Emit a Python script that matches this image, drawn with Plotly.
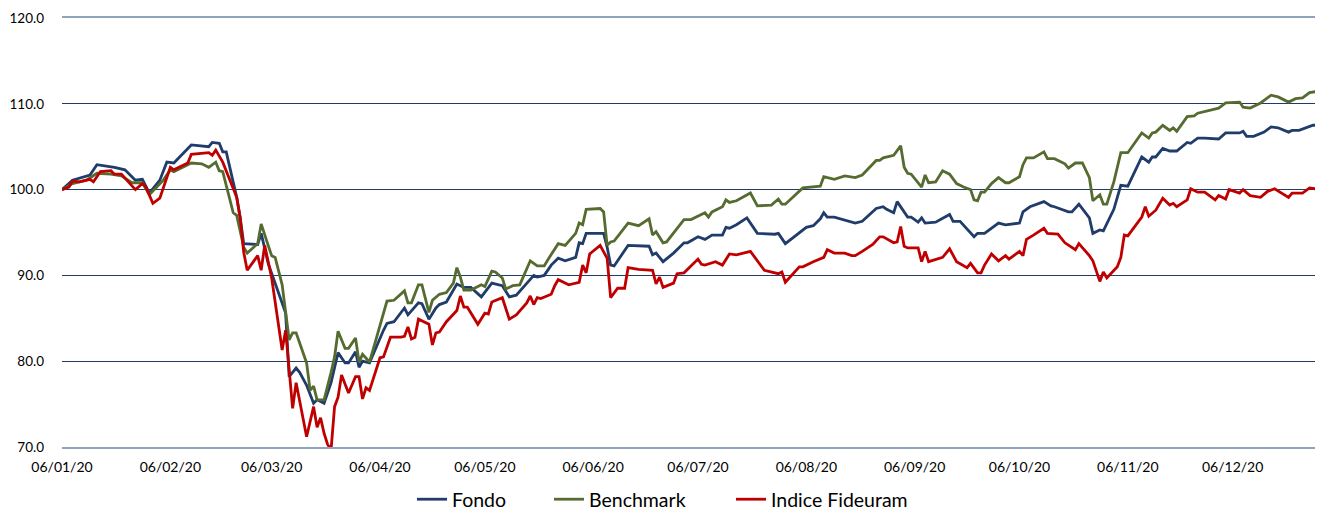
import pandas as pd
import plotly.graph_objects as go

START = "2020-01-06"

# Day offsets from 06/01/2020 and values
fondo_days = [0, 3, 8, 10, 15, 18, 21, 23, 25, 28, 30, 32, 37, 42, 43, 45, 46, 47, 50, 51,
              52, 56, 57, 59, 64, 65, 67, 68, 70, 72, 73, 75, 77, 79, 81, 82, 84, 85, 86, 88,
              92, 93, 95, 98, 99, 102, 103, 105, 107, 108, 110, 113, 115, 117, 120, 123, 126,
              128, 130, 135, 136, 138, 140, 142, 144, 147, 148, 149, 150, 155, 156, 157, 158,
              162, 168, 169, 170, 172, 175, 178, 179, 182, 184, 186, 189, 190, 191, 193, 196,
              199, 204, 205, 207, 211, 213, 215, 217, 218, 219, 221, 225, 227, 229, 231, 233,
              235, 236, 238, 239, 242, 243, 245, 246, 247, 250, 254, 255, 257, 261, 262, 264,
              268, 270, 274, 275, 277, 281, 283, 284, 288, 289, 291, 292, 294, 295, 297, 298,
              301, 303, 305, 309, 311, 312, 313, 315, 317, 319, 322, 323, 325, 327, 331, 333,
              337, 338, 339, 341, 344, 346, 348, 351, 352, 354, 358, 360]
fondo_vals = [100.0, 101.1, 101.7, 102.9, 102.6, 102.3, 101.1, 101.2, 99.6, 101.1, 103.2, 103.1,
              105.2, 105.0, 105.5, 105.4, 104.4, 104.4, 99.1, 96.7, 93.7, 93.6, 94.9, 91.4, 85.6,
              78.2, 79.2, 78.7, 77.2, 75.1, 75.5, 75.1, 77.5, 81.0, 79.8, 79.8, 81.1, 79.3, 80.0,
              79.8, 83.6, 84.4, 84.6, 86.2, 85.4, 86.8, 86.7, 84.9, 86.2, 86.6, 86.9, 89.0, 88.6,
              88.6, 87.5, 89.1, 88.8, 87.5, 87.7, 90.0, 89.8, 90.0, 91.2, 92.0, 91.7, 92.1, 93.8,
              93.7, 94.9, 94.9, 93.3, 91.2, 91.1, 93.5, 93.4, 92.4, 92.6, 91.6, 92.6, 93.8, 93.8,
              94.5, 94.2, 94.7, 94.7, 95.6, 95.5, 95.9, 96.7, 94.9, 94.8, 94.9, 93.7, 94.9, 95.6,
              95.8, 96.6, 97.3, 96.8, 96.8, 96.3, 96.1, 96.3, 97.0, 97.8, 98.0, 97.7, 97.3, 98.6,
              96.8, 96.8, 96.2, 96.7, 96.1, 96.2, 97.1, 96.3, 96.3, 94.5, 94.9, 94.9, 96.1, 95.9,
              96.1, 97.4, 98.0, 98.6, 98.1, 98.0, 97.4, 97.4, 98.3, 97.8, 96.7, 94.9, 95.3, 95.2,
              97.7, 100.5, 100.4, 103.8, 103.2, 103.8, 103.8, 104.8, 104.5, 104.5, 105.5, 105.4,
              106.0, 106.0, 105.9, 106.6, 106.6, 106.8, 106.2, 106.2, 106.7, 107.3, 107.2, 106.7,
              106.9, 106.9, 107.5, 107.5]

bench_days = [0, 3, 7, 10, 14, 17, 20, 23, 25, 29, 31, 32, 37, 40, 42, 44, 45, 46, 49, 50,
              52, 53, 56, 57, 59, 60, 61, 63, 65, 66, 67, 70, 71, 72, 73, 75, 77, 78, 79, 81,
              82, 84, 85, 86, 88, 91, 93, 95, 98, 99, 100, 102, 103, 105, 106, 108, 110, 112,
              113, 114, 115, 117, 120, 121, 123, 124, 126, 127, 129, 131, 134, 136, 138, 139,
              140, 142, 144, 147, 148, 149, 150, 154, 155, 156, 157, 158, 162, 165, 168, 169,
              170, 172, 173, 177, 178, 180, 184, 185, 186, 189, 190, 191, 193, 197, 199, 203,
              205, 206, 207, 212, 215, 217, 218, 221, 224, 227, 229, 231, 233, 234, 235, 238,
              240, 241, 242, 243, 246, 247, 248, 250, 252, 254, 256, 258, 260, 261, 262, 263,
              264, 266, 268, 270, 271, 274, 275, 276, 278, 281, 282, 284, 287, 288, 290, 292,
              294, 295, 297, 298, 299, 301, 303, 305, 309, 311, 312, 313, 315, 317, 318, 319,
              322, 324, 325, 331, 333, 337, 338, 340, 343, 346, 348, 351, 353, 355, 357, 360]
bench_vals = [100.0, 100.7, 101.1, 101.9, 101.8, 101.6, 100.8, 100.8, 99.4, 101.1, 102.3, 102.1,
              103.1, 103.0, 102.6, 103.2, 102.2, 102.1, 97.3, 97.0, 93.3, 92.6, 93.7, 96.0, 93.5,
              92.3, 92.1, 88.9, 82.5, 83.3, 83.3, 79.8, 76.6, 77.1, 75.5, 75.5, 78.7, 80.5, 83.5,
              81.5, 81.5, 82.7, 79.9, 80.8, 79.9, 84.0, 87.0, 87.1, 88.2, 86.8, 86.8, 88.9, 88.9,
              85.7, 87.1, 87.8, 88.0, 89.1, 90.9, 89.8, 88.3, 88.3, 88.9, 88.7, 90.5, 90.4, 89.7,
              88.4, 88.8, 88.9, 91.7, 91.1, 91.1, 91.8, 92.4, 93.7, 93.5, 94.9, 96.1, 95.9, 97.7,
              97.8, 97.4, 93.5, 93.9, 94.0, 96.1, 95.8, 96.6, 94.7, 95.1, 93.8, 93.9, 95.9, 96.5,
              96.5, 97.3, 96.8, 97.4, 98.0, 98.8, 98.5, 98.7, 99.6, 98.1, 98.2, 98.9, 98.3, 98.3,
              100.2, 100.3, 100.4, 101.5, 101.2, 101.6, 101.4, 101.7, 102.6, 103.4, 103.4, 103.7,
              104.0, 105.1, 102.6, 101.9, 101.8, 100.3, 101.7, 100.8, 100.9, 102.2, 101.8, 100.7,
              100.3, 100.0, 98.8, 98.7, 99.7, 99.7, 100.7, 101.4, 100.8, 100.8, 101.5, 102.9,
              103.7, 103.7, 104.4, 103.6, 103.6, 103.0, 102.5, 103.1, 103.1, 101.4, 98.7, 99.4,
              98.3, 98.3, 100.9, 104.3, 104.3, 106.6, 106.0, 106.6, 106.7, 107.5, 106.9, 107.2,
              106.8, 108.5, 108.6, 108.9, 109.5, 110.1, 110.2, 109.6, 109.5, 110.1, 111.0, 110.8,
              110.2, 110.6, 110.7, 111.3, 111.5]

indice_days = [0, 2, 3, 5, 8, 9, 11, 14, 15, 17, 21, 23, 24, 26, 28, 31, 32, 36, 37, 42,
               43, 44, 46, 50, 51, 52, 53, 56, 57, 58, 60, 63, 64, 66, 67, 70, 72, 73, 74, 75,
               76, 77, 78, 79, 80, 82, 84, 85, 86, 87, 88, 91, 92, 94, 97, 98, 99, 100, 101, 102,
               105, 106, 107, 108, 110, 113, 114, 115, 116, 119, 121, 122, 123, 126, 128, 130,
               133, 134, 135, 136, 137, 140, 141, 142, 145, 148, 149, 150, 151, 154, 156, 157,
               159, 161, 162, 165, 169, 170, 171, 172, 175, 176, 178, 182, 183, 184, 187, 189,
               191, 193, 197, 201, 205, 206, 207, 211, 212, 215, 218, 219, 221, 224, 226, 227,
               229, 232, 234, 235, 238, 239, 240, 241, 242, 245, 246, 247, 248, 252, 254, 256,
               259, 260, 262, 263, 264, 266, 268, 270, 271, 274, 275, 276, 278, 281, 282, 285,
               287, 290, 291, 294, 295, 297, 298, 299, 302, 303, 304, 305, 309, 310, 311, 313,
               315, 317, 318, 319, 322, 323, 325, 327, 330, 331, 333, 334, 337, 338, 340, 343,
               345, 347, 351, 352, 355, 357, 360]
indice_vals = [100.0, 100.3, 101.0, 100.9, 101.2, 100.9, 102.1, 102.2, 101.8, 101.8, 100.0, 100.7,
               100.3, 98.4, 99.0, 102.6, 102.3, 103.1, 104.1, 104.3, 104.0, 104.6, 103.2, 99.1,
               96.7, 92.7, 90.6, 92.3, 90.6, 93.5, 89.7, 81.3, 83.6, 74.5, 77.5, 71.2, 74.7, 72.3,
               73.4, 71.6, 70.3, 69.7, 74.7, 75.8, 78.4, 76.3, 78.2, 78.2, 75.6, 76.9, 76.6, 80.4,
               80.5, 82.8, 82.8, 82.9, 84.0, 82.6, 82.8, 84.9, 84.3, 81.9, 83.3, 83.4, 84.6, 85.9,
               87.6, 86.3, 86.3, 84.3, 85.6, 85.5, 86.9, 87.4, 84.9, 85.4, 86.8, 87.6, 86.6, 87.4,
               87.3, 87.8, 88.8, 89.5, 88.9, 89.2, 91.2, 90.3, 92.5, 93.5, 92.0, 87.4, 88.5, 88.5,
               90.9, 90.7, 90.6, 89.0, 89.8, 88.6, 89.1, 90.2, 90.3, 91.9, 91.3, 91.2, 91.6, 91.2,
               92.5, 92.4, 92.8, 90.6, 90.2, 90.4, 89.2, 91.0, 91.0, 91.6, 92.1, 93.0, 92.6, 92.6,
               92.3, 92.3, 92.8, 93.6, 94.5, 94.5, 93.8, 93.9, 95.7, 93.4, 93.2, 93.2, 91.6, 92.8,
               91.6, 92.1, 93.1, 91.6, 90.9, 91.4, 90.3, 90.3, 91.2, 92.5, 91.7, 92.3, 91.9, 92.8,
               92.3, 94.2, 94.7, 95.5, 94.9, 94.8, 93.8, 93.0, 93.7, 92.3, 91.7, 89.3, 90.4, 89.7,
               91.0, 92.1, 94.7, 94.6, 96.8, 98.0, 96.9, 97.6, 99.0, 98.2, 98.4, 98.0, 98.8, 100.1,
               99.7, 99.7, 98.8, 99.3, 98.9, 100.0, 99.6, 100.0, 99.3, 99.1, 99.8, 100.1, 99.1,
               99.6, 99.6, 100.2, 100.0]

tick_dates = ["2020-01-06", "2020-02-06", "2020-03-06", "2020-04-06", "2020-05-06", "2020-06-06",
              "2020-07-06", "2020-08-06", "2020-09-06", "2020-10-06", "2020-11-06", "2020-12-06"]
y_ticks = [70, 80, 90, 100, 110, 120]

series = [
    ("Fondo", fondo_days, fondo_vals, "#1F3C6A", "legend"),
    ("Benchmark", bench_days, bench_vals, "#556B2F", "legend2"),
    ("Indice Fideuram", indice_days, indice_vals, "#C00000", "legend3"),
]

start = pd.Timestamp(START)
fig = go.Figure()
for name, days, vals, color, lg in series:
    x = start + pd.to_timedelta(days, unit="D")
    fig.add_trace(go.Scatter(x=x, y=vals, mode="lines", name=name, legend=lg,
                             line=dict(color=color, width=2.8)))

font = "Lato, 'Noto Sans', sans-serif"

# The page body adds an 8px offset, so the figure is sized to fit inside it.
PAGE_OFF = 8
PLOT_L_PAGE, PLOT_R_PAGE, PLOT_T_PAGE, PLOT_B_PAGE = 62, 1320, 18, 447
FIG_W, FIG_H = 1323 - PAGE_OFF, 513 - PAGE_OFF
M_L = PLOT_L_PAGE - PAGE_OFF
M_T = PLOT_T_PAGE - PAGE_OFF
M_R = FIG_W - (PLOT_R_PAGE - PAGE_OFF)
M_B = FIG_H - (PLOT_B_PAGE - PAGE_OFF)
PLOT_W = PLOT_R_PAGE - PLOT_L_PAGE


def leg(px):
    return dict(orientation="h", x=(px - PLOT_L_PAGE) / PLOT_W, xanchor="left",
                y=-0.077, yanchor="top", itemwidth=30, bgcolor="rgba(0,0,0,0)",
                font=dict(size=19.5, family=font, color="#000000"))


fig.update_layout(
    width=FIG_W, height=FIG_H,
    margin=dict(l=M_L, r=M_R, t=M_T, b=M_B, autoexpand=False),
    paper_bgcolor="white", plot_bgcolor="white",
    font=dict(family=font, color="#000000", size=13),
    showlegend=True,
    legend=leg(412),
    legend2=leg(549),
    legend3=leg(731),
    xaxis=dict(
        type="date",
        range=["2020-01-06", "2020-12-31"],
        tickvals=tick_dates, tickformat="%d/%m/%y",
        showgrid=False, zeroline=False, automargin=False,
        showline=True, linecolor="#8EA3BE", linewidth=2, mirror=True,
        ticks="", ticklabelstandoff=6,
        tickfont=dict(size=14, family=font),
    ),
    yaxis=dict(
        range=[70, 120], tickvals=y_ticks, tickformat=".1f",
        showgrid=True, gridcolor="#1F3C6A", gridwidth=1.2,
        zeroline=False, showline=False, ticks="", automargin=False,
        ticklabelstandoff=17,
        tickfont=dict(size=13.5, family=font),
    ),
)

fig.write_html("out.html")
